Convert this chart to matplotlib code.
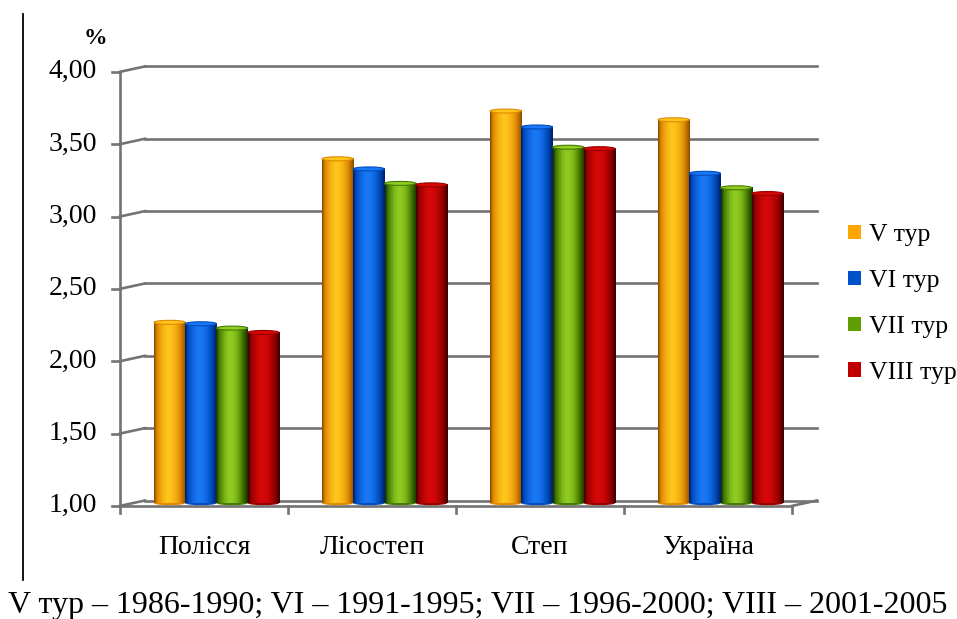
import numpy as np
import matplotlib.pyplot as plt
from matplotlib.colors import LinearSegmentedColormap
from matplotlib.patches import Ellipse, Patch

plt.rcParams['font.family'] = ['Liberation Serif', 'DejaVu Serif']

# Data
regions = ['Полісся', 'Лісостеп', 'Степ', 'Україна']
series = ['V тур', 'VI тур', 'VII тур', 'VIII тур']
v_tour = [2.25, 3.38, 3.71, 3.65]
vi_tour = [2.24, 3.31, 3.60, 3.28]
vii_tour = [2.21, 3.21, 3.46, 3.18]
viii_tour = [2.18, 3.20, 3.45, 3.14]
yticks = [1.0, 1.5, 2.0, 2.5, 3.0, 3.5, 4.0]
footnote = 'V тур – 1986-1990; VI – 1991-1995; VII – 1996-2000; VIII – 2001-2005'

values = [v_tour, vi_tour, vii_tour, viii_tour]

# cylinder shading per series: dark edge, mid, light centre
shades = [
    ('#8a4800', '#e08a00', '#ffc61c'),
    ('#001f60', '#004cc0', '#1a78f5'),
    ('#142c00', '#447c00', '#92cc22'),
    ('#380000', '#980000', '#d80808'),
]
legend_colors = ['#ffa600', '#0052cc', '#5f9e00', '#c00000']

# Figure in pixel terms
W, H = 957, 619
PXX = 168.0    # pixels per category
PXY = 144.7    # pixels per 1 %
X0 = 132.5     # pixel column of x=0 (mid-depth plane)
Y1 = 503.2     # pixel row of value 1.00 (mid-depth plane)
dx = 12.5 / PXX   # half depth offset, horizontal
dy = 2.7 / PXY    # half depth offset, vertical

fig = plt.figure(figsize=(W / 100, H / 100), dpi=100)
ax = fig.add_axes([0, 0, 1, 1])
ax.axis('off')

grid_col = '#737373'
lw = 1.9

# back wall gridlines + left wall diagonals
for v in yticks:
    ax.plot([dx, 4 + dx], [v + dy, v + dy], color=grid_col, lw=lw, zorder=1)
    ax.plot([-dx, dx], [v - dy, v + dy], color=grid_col, lw=lw, zorder=1)
    # tick on the front vertical axis
    ax.plot([-dx - 8 / PXX, -dx], [v - dy, v - dy], color=grid_col, lw=lw, zorder=1)
    ax.text(-dx - 23 / PXX, v - dy, f'{v:.2f}'.replace('.', ','),
            ha='right', va='center', fontsize=20)

# front vertical axis
ax.plot([-dx, -dx], [1 - dy, 4 - dy], color=grid_col, lw=lw, zorder=1)
# floor: front edge and right diagonal
ax.plot([-dx, 4 - dx], [1 - dy, 1 - dy], color=grid_col, lw=lw, zorder=1)
ax.plot([4 - dx, 4 + dx], [1 - dy, 1 + dy], color=grid_col, lw=lw, zorder=1)
for i in range(5):
    ax.plot([i - dx, i - dx], [1 - dy, 1 - dy - 7 / PXY], color=grid_col, lw=lw, zorder=1)

# cylinder bars
bw = 31.25 / PXX
eh = 4.0 / PXY
grad = np.interp(np.linspace(0, 1, 200),
                 [0.0, 0.1, 0.3, 0.42, 0.55, 0.68, 0.82, 0.95, 1.0],
                 [0, 0.5, 0.88, 1.0, 0.95, 0.8, 0.5, 0.15, 0])[None, :]
for k, (vals, (c_dark, c_mid, c_light)) in enumerate(zip(values, shades)):
    cmap = LinearSegmentedColormap.from_list(f's{k}', [c_dark, c_mid, c_light])
    xs = np.arange(len(regions)) + 0.5 + (k - 1.5) * bw
    for x, v in zip(xs, vals):
        ax.imshow(grad, extent=(x - bw / 2, x + bw / 2, 1, v), cmap=cmap,
                  aspect='auto', interpolation='bilinear', zorder=3 + k)
        ax.add_patch(Ellipse((x, 1), bw, eh, facecolor=c_mid, edgecolor='none', zorder=2.9 + k))
        ax.add_patch(Ellipse((x, v), bw, eh, facecolor=c_light, edgecolor=c_mid,
                             lw=0.8, zorder=3.1 + k))

# category labels
for i, name in enumerate(regions):
    ax.text(i + 0.5 - dx, 1 + (Y1 - 547) / PXY, name, ha='center', va='center', fontsize=20)

# percent sign
ax.text((95 - X0) / PXX, 1 + (Y1 - 38) / PXY, '%', ha='center', va='center',
        fontsize=17, fontweight='bold')

# footnote and left border line
ax.text((8 - X0) / PXX, 1 + (Y1 - 605) / PXY, footnote, ha='left', va='center', fontsize=23)
ax.plot([(23 - X0) / PXX] * 2, [1 + (Y1 - 14) / PXY, 1 + (Y1 - 580) / PXY],
        color='black', lw=1.3)

ax.set_xlim(-X0 / PXX, (W - X0) / PXX)
ax.set_ylim(1 - (H - Y1) / PXY, 1 + Y1 / PXY)

handles = [Patch(facecolor=c, edgecolor='none', label=s) for c, s in zip(legend_colors, series)]
fig.legend(handles=handles, loc='center left', bbox_to_anchor=(848 / W, 1 - 304 / H),
           frameon=False, fontsize=18.5, handlelength=0.5, handleheight=0.5,
           handletextpad=0.3, labelspacing=0.93, borderpad=0, borderaxespad=0)

fig.savefig('out.png', dpi=100)
